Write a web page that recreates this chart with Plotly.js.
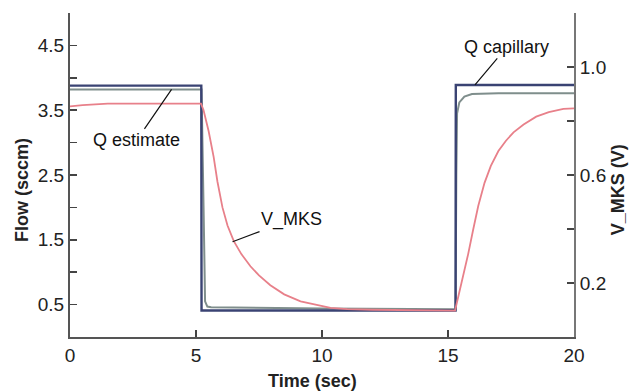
<!DOCTYPE html>
<html>
<head>
<meta charset="utf-8">
<script src="https://cdn.plot.ly/plotly-3.0.1.min.js"></script>
<style>html,body{margin:0;padding:0;background:#fff;overflow:hidden;}#chart{width:630px;height:391px;}</style>
</head>
<body>
<div id="chart"></div>
<script>
// Q capillary (sccm)
const capTime = [0, 5.21, 5.22, 15.30, 15.31, 20];
const capFlow = [3.88, 3.88, 0.41, 0.41, 3.89, 3.89];

// Q estimate (sccm)
const estTime = [0, 5.22, 5.30, 5.36, 5.45, 5.6, 10, 15.30, 15.33, 15.36, 15.45, 15.65, 15.95, 17, 20];
const estFlow = [3.82, 3.82, 2.0, 0.55, 0.47, 0.46, 0.44, 0.43, 2.5, 3.45, 3.62, 3.71, 3.75, 3.76, 3.76];

// V_MKS (V)
const mksTime = [0, 0.5, 1.5, 5.2, 5.3, 5.5, 5.7, 5.85, 6.05, 6.25, 6.5, 6.8, 7.16, 7.5, 7.95, 8.5, 9.15, 9.8, 10.34, 11, 12, 15.28,
                 15.45, 15.6, 15.8, 16.0, 16.2, 16.45, 16.7, 17.0, 17.3, 17.6, 18.0, 18.5, 19.0, 19.58, 20];
const mksVolt = [0.854, 0.859, 0.864, 0.864, 0.840, 0.763, 0.667, 0.576, 0.480, 0.413, 0.355, 0.307, 0.262, 0.228, 0.192, 0.158, 0.132, 0.118, 0.108, 0.103, 0.101, 0.098,
                 0.163, 0.221, 0.307, 0.398, 0.485, 0.571, 0.634, 0.689, 0.727, 0.758, 0.787, 0.816, 0.833, 0.845, 0.847];

const xTicks = [0, 5, 10, 15, 20];
const yTickVals = [0.5, 1, 1.5, 2, 2.5, 3, 3.5, 4, 4.5, 5];
const yTickText = ['0.5', '', '1.5', '', '2.5', '', '3.5', '', '4.5', ''];
const y2TickVals = [0.2, 0.4, 0.6, 0.8, 1.0, 1.2];
const y2TickText = ['0.2', '', '0.6', '', '1.0', ''];

const tickFont = {family: 'Liberation Sans, Arial, sans-serif', size: 19, color: '#222'};
const titleFont = {family: 'Liberation Sans, Arial, sans-serif', size: 18, color: '#222', weight: 'bold'};
const noteFont = {family: 'Liberation Sans, Arial, sans-serif', size: 18, color: '#111'};

const traces = [
  {x: estTime, y: estFlow, mode: 'lines', line: {color: '#7f8e8c', width: 2}, name: 'Q estimate'},
  {x: capTime, y: capFlow, mode: 'lines', line: {color: '#3a4373', width: 2.4}, name: 'Q capillary'},
  {x: mksTime, y: mksVolt, yaxis: 'y2', mode: 'lines', line: {color: '#e8808a', width: 1.8}, name: 'V_MKS'}
];

const layout = {
  width: 630, height: 391,
  margin: {l: 70, r: 56, t: 13, b: 54},
  paper_bgcolor: '#fff', plot_bgcolor: '#fff',
  showlegend: false,
  xaxis: {
    range: [0, 20], tickmode: 'array', tickvals: xTicks, ticktext: xTicks.map(String),
    ticks: 'inside', ticklen: 7, tickwidth: 1.5, tickcolor: '#444',
    showline: true, linecolor: '#555', linewidth: 2, showgrid: false, zeroline: false,
    tickfont: tickFont
  },
  yaxis: {
    range: [0, 5], tickmode: 'array', tickvals: yTickVals, ticktext: yTickText,
    ticks: 'inside', ticklen: 7, tickwidth: 1.5, tickcolor: '#444',
    showline: true, linecolor: '#555', linewidth: 2, showgrid: false, zeroline: false,
    tickfont: tickFont
  },
  yaxis2: {
    range: [0, 1.2], overlaying: 'y', side: 'right', tickmode: 'array', tickvals: y2TickVals, ticktext: y2TickText,
    ticks: 'inside', ticklen: 7, tickwidth: 1.5, tickcolor: '#444',
    showline: true, linecolor: '#777', linewidth: 2, showgrid: false, zeroline: false,
    tickfont: tickFont
  },
  annotations: [
    {x: 4.03, y: 3.82, xref: 'x', yref: 'y', text: 'Q estimate', showarrow: true, arrowhead: 0, arrowwidth: 1.2, arrowcolor: '#111', ax: -35, ay: 51, font: noteFont},
    {x: 16.07, y: 3.89, xref: 'x', yref: 'y', text: 'Q capillary', showarrow: true, arrowhead: 0, arrowwidth: 1.2, arrowcolor: '#111', ax: 32, ay: -38, font: noteFont},
    {x: 6.45, y: 0.353, xref: 'x', yref: 'y2', text: 'V_MKS', showarrow: true, arrowhead: 0, arrowwidth: 1.2, arrowcolor: '#111', ax: 59, ay: -22, font: noteFont},
    {x: -0.0952, y: 0.4537, xref: 'paper', yref: 'paper', text: 'Flow (sccm)', textangle: -90, showarrow: false, xanchor: 'center', yanchor: 'middle', font: titleFont},
    {x: 1.088, y: 0.4537, xref: 'paper', yref: 'paper', text: 'V_MKS (V)', textangle: -90, showarrow: false, xanchor: 'center', yanchor: 'middle', font: titleFont},
    {x: 0.482, y: -0.136, xref: 'paper', yref: 'paper', text: 'Time (sec)', showarrow: false, xanchor: 'center', yanchor: 'middle', font: titleFont}
  ]
};

Plotly.newPlot('chart', traces, layout, {displayModeBar: false, staticPlot: true});
</script>
</body>
</html>
